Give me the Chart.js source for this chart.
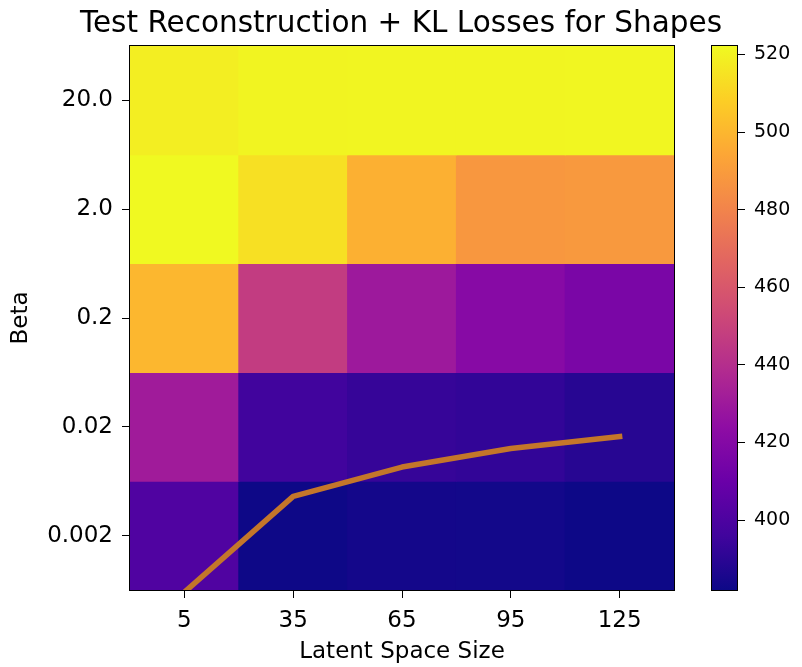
<!DOCTYPE html>
<html>
<head>
<meta charset="utf-8">
<script src="https://cdn.jsdelivr.net/npm/chart.js@4.4.0/dist/chart.umd.min.js"></script>
<style>
    html, body { margin: 0; padding: 0; background: #fff; overflow: hidden; }
    #wrap { position: relative; width: 802px; height: 667px; }
    #main { position: absolute; left: 0; top: 0; }
    #cbar { position: absolute; left: 700px; top: 0; }
</style>
</head>
<body>
<div id="wrap">
    <canvas id="main" width="802" height="667"></canvas>
    <canvas id="cbar" width="102" height="667"></canvas>
</div>
<script>
const latentSizes = ['5', '35', '65', '95', '125'];
const betas = ['20.0', '2.0', '0.2', '0.02', '0.002'];

// loss per latent size, one array per beta (top row to bottom row)
const lossBeta20 = [518.5, 520.6, 521.0, 520.8, 521.1];
const lossBeta2 = [522.2, 514.0, 497.5, 488.0, 489.0];
const lossBeta02 = [500.0, 447.0, 430.0, 421.0, 416.0];
const lossBeta002 = [431.0, 396.0, 393.0, 392.0, 389.0];
const lossBeta0002 = [401.0, 382.3, 384.0, 383.6, 382.0];

// overlay line, in row units of the beta axis
const lineValues = [4.52, 3.64, 3.37, 3.20, 3.09];

const colorbarTicks = [400, 420, 440, 460, 480, 500, 520];

const plasmaStops = ['#0d0887', '#41049d', '#6a00a8', '#8f0da4', '#b12a90', '#cc4778',
    '#e16462', '#f2844b', '#fca636', '#fcce25', '#f0f921'];

function hexToRgb(h) {
    return [parseInt(h.slice(1, 3), 16), parseInt(h.slice(3, 5), 16), parseInt(h.slice(5, 7), 16)];
}

function plasma(t) {
    t = Math.max(0, Math.min(1, t));
    const p = t * (plasmaStops.length - 1);
    const i = Math.min(Math.floor(p), plasmaStops.length - 2);
    const f = p - i;
    const a = hexToRgb(plasmaStops[i]);
    const b = hexToRgb(plasmaStops[i + 1]);
    const c = a.map((v, k) => Math.round(v + (b[k] - v) * f));
    return 'rgb(' + c.join(',') + ')';
}

const rows = [lossBeta20, lossBeta2, lossBeta02, lossBeta002, lossBeta0002];
const allValues = rows.flat();
const vmin = Math.min(...allValues);
const vmax = Math.max(...allValues);

const fontFamily = "'DejaVu Sans', sans-serif";

// black frame round the plot area
const framePlugin = {
    id: 'frame',
    afterDraw(chart) {
        const a = chart.chartArea;
        const ctx = chart.ctx;
        ctx.save();
        ctx.strokeStyle = '#000';
        ctx.lineWidth = 1;
        ctx.strokeRect(Math.round(a.left) - 0.5, Math.round(a.top) - 0.5,
            Math.round(a.right - a.left) + 1, Math.round(a.bottom - a.top) + 1);
        ctx.restore();
    }
};

const heatSets = rows.map((vals, r) => ({
    type: 'bar',
    label: 'beta ' + betas[r],
    data: vals.map(() => [r - 0.5, r + 0.5]),
    backgroundColor: vals.map(v => plasma((v - vmin) / (vmax - vmin))),
    borderWidth: 0,
    barPercentage: 1,
    categoryPercentage: 1,
    inflateAmount: 0.5,
    order: 2
}));

const lineSet = {
    type: 'line',
    label: 'overlay',
    data: lineValues,
    borderColor: 'rgb(196, 118, 42)',
    borderWidth: 5.5,
    borderCapStyle: 'square',
    borderJoinStyle: 'round',
    pointRadius: 0,
    tension: 0,
    clip: 0,
    order: 0
};

new Chart(document.getElementById('main'), {
    type: 'bar',
    data: {
        labels: latentSizes,
        datasets: [lineSet, ...heatSets]
    },
    options: {
        responsive: false,
        animation: false,
        layout: { padding: 0 },
        plugins: {
            legend: { display: false },
            tooltip: { enabled: false },
            title: {
                display: true,
                text: 'Test Reconstruction + KL Losses for Shapes',
                color: '#000',
                font: { family: fontFamily, size: 29.5, weight: 'normal' },
                padding: { top: 6.3, bottom: 4.3 }
            }
        },
        scales: {
            x: {
                type: 'category',
                offset: true,
                stacked: true,
                grid: { display: true, drawOnChartArea: false, offset: false, tickLength: 8, color: '#000' },
                border: { display: true, color: '#000' },
                ticks: { color: '#000', font: { family: fontFamily, size: 23 }, padding: 9, maxRotation: 0 },
                title: {
                    display: true,
                    text: 'Latent Space Size',
                    color: '#000',
                    font: { family: fontFamily, size: 23 },
                    padding: { top: 0, bottom: 1 }
                },
                afterFit: s => { s.height = 77; }
            },
            y: {
                type: 'linear',
                reverse: true,
                min: -0.5,
                max: 4.5,
                stacked: false,
                afterBuildTicks: s => { s.ticks = betas.map((b, i) => ({ value: i })); },
                grid: { display: true, drawOnChartArea: false, tickLength: 8, color: '#000' },
                border: { display: true, color: '#000' },
                ticks: {
                    color: '#000',
                    font: { family: fontFamily, size: 23 },
                    padding: 9,
                    callback: v => betas[v]
                },
                title: {
                    display: true,
                    text: 'Beta',
                    color: '#000',
                    font: { family: fontFamily, size: 23 },
                    padding: { top: 7, bottom: 0 }
                },
                afterFit: s => { s.width = 130; }
            },
            // empty axis that keeps room for the colour bar on the right
            spacer: {
                type: 'linear',
                position: 'right',
                display: true,
                grid: { display: false },
                border: { display: false },
                ticks: { display: false },
                afterFit: s => { s.width = 128; }
            }
        }
    },
    plugins: [framePlugin]
});

// colour bar
new Chart(document.getElementById('cbar'), {
    type: 'bar',
    data: {
        labels: [''],
        datasets: [{
            data: [[vmin, vmax]],
            backgroundColor: ctx => {
                const a = ctx.chart.chartArea;
                if (!a) return plasma(0.5);
                const g = ctx.chart.ctx.createLinearGradient(0, a.bottom, 0, a.top);
                plasmaStops.forEach((c, i) => g.addColorStop(i / (plasmaStops.length - 1), c));
                return g;
            },
            borderWidth: 0,
            barPercentage: 1,
            categoryPercentage: 1
        }]
    },
    options: {
        responsive: false,
        animation: false,
        layout: { padding: { left: 12, right: 0, top: 46, bottom: 77 } },
        plugins: { legend: { display: false }, tooltip: { enabled: false } },
        scales: {
            x: { display: false },
            y: {
                position: 'right',
                min: vmin,
                max: vmax,
                afterBuildTicks: s => { s.ticks = colorbarTicks.map(v => ({ value: v })); },
                grid: { display: true, drawOnChartArea: false, tickLength: 8, color: '#000' },
                border: { display: true, color: '#000' },
                ticks: { color: '#000', font: { family: fontFamily, size: 19 }, padding: 9 },
                afterFit: s => { s.width = 65; }
            }
        }
    },
    plugins: [framePlugin]
});
</script>
</body>
</html>
